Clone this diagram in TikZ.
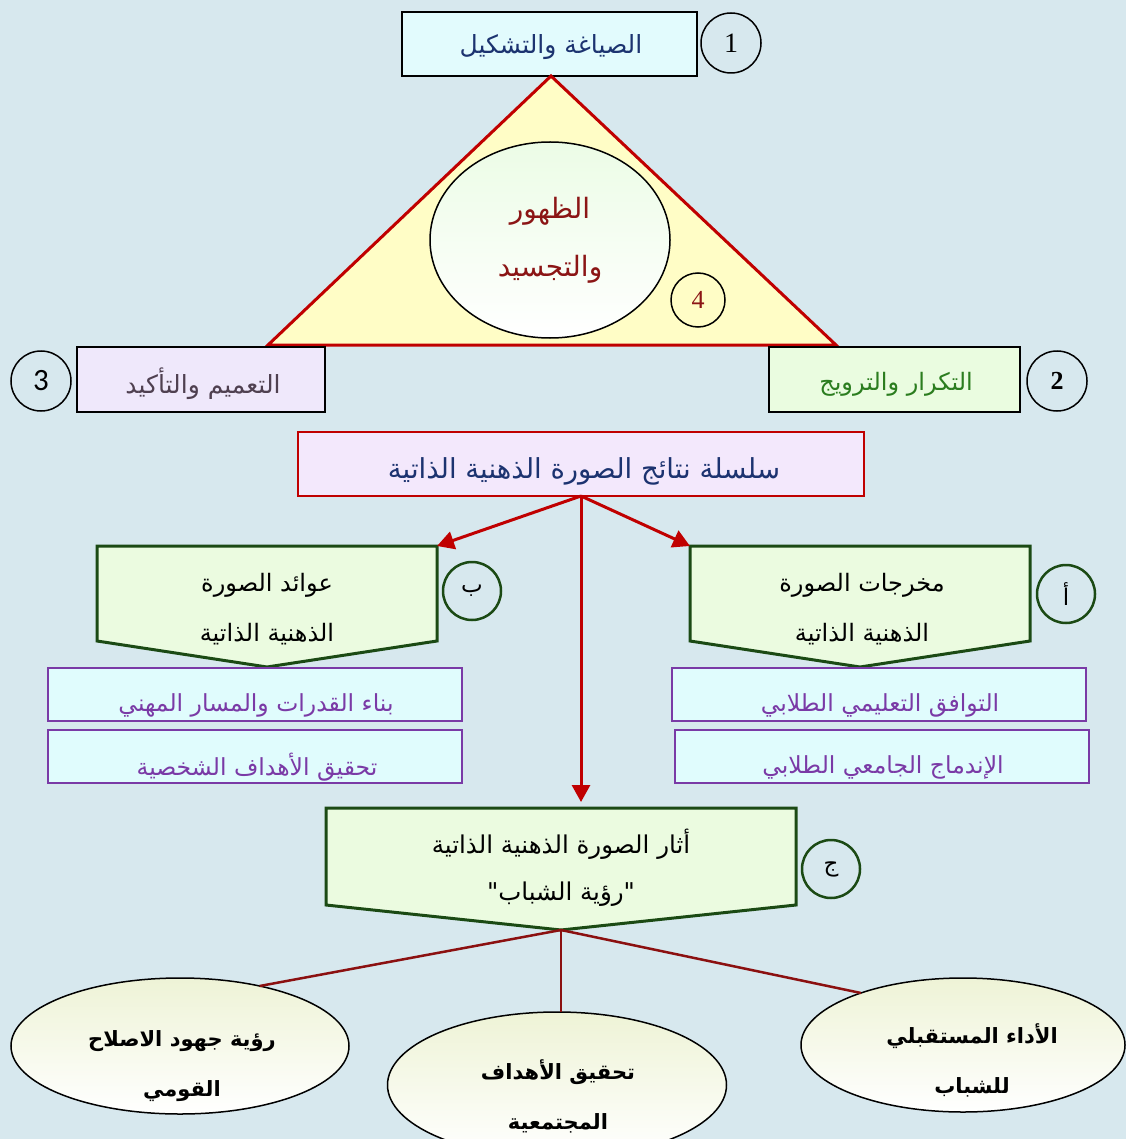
\documentclass[tikz,border=0pt]{standalone}
\usepackage{fontspec}
\usetikzlibrary{arrows.meta,calc,shapes.geometric}
\TeXXeTstate=1
\newfontfamily\arfont[Script=Arabic]{DejaVu Sans}
\newfontfamily\arbold[Script=Arabic]{DejaVu Sans Bold}
\newfontfamily\numfont{Liberation Serif}
\newfontfamily\calfont{Carlito}
\newcommand{\AR}[1]{\beginR #1\endR}
\definecolor{bgc}{HTML}{D7E8EE}
\definecolor{cyanbg}{HTML}{E2FBFD}
\definecolor{triy}{HTML}{FFFDC6}
\definecolor{redc}{HTML}{C00000}
\definecolor{lavb}{HTML}{EFE8FB}
\definecolor{greenb}{HTML}{EAFCE0}
\definecolor{centf}{HTML}{F3E8FC}
\definecolor{navyt}{HTML}{1C3370}
\definecolor{dredt}{HTML}{8B1515}
\definecolor{greent}{HTML}{2B7D1F}
\definecolor{greyt}{HTML}{4F4050}
\definecolor{pentf}{HTML}{EBFBE0}
\definecolor{pentd}{HTML}{1B4A14}
\definecolor{purp}{HTML}{7A3AA6}
\definecolor{purf}{HTML}{E0FCFD}
\definecolor{linec}{HTML}{8B1010}
\definecolor{ellt}{HTML}{EEF3D6}
\begin{document}
\begin{tikzpicture}[x=1pt,y=-1pt,
  every node/.style={inner sep=0pt,outer sep=0pt},
  rbox/.style={draw=black,line width=1.5pt,rectangle},
  numc/.style={circle,draw=black,line width=1.5pt,minimum size=60pt},
  letc/.style={circle,draw=pentd,line width=2.5pt,minimum size=58pt,font={\arfont\fontsize{23}{24}\selectfont}},
  penta/.style={draw=pentd,fill=pentf,line width=3pt,line join=miter},
  pbox/.style={rectangle,draw=purp,fill=purf,line width=2.5pt,minimum width=414pt,minimum height=53pt},
  ptext/.style={text=purp,font={\arfont\fontsize{23.5}{26}\selectfont}},
  gtext/.style={text=black,align=center,font={\arfont\fontsize{24}{50}\selectfont}},
  ell/.style={ellipse,draw=black,line width=1.5pt,top color=ellt,bottom color=white},
  etext/.style={text=black,align=center,font={\arbold\fontsize{21}{50}\selectfont}},
  redarrow/.style={draw=redc,line width=3pt,-{Triangle[length=17pt,width=18pt]}},
  bline/.style={draw=linec,line width=2.5pt}
]
\useasboundingbox (0,0) rectangle (1126,1139);
\fill[bgc] (0,0) rectangle (1126,1139);
\begin{scope}
\clip (0,0) rectangle (1126,1139);
% top box
\node[rbox,fill=cyanbg,minimum width=295pt,minimum height=64pt] (B1) at (549.5,44) {};
\node[text=navyt,font={\arfont\fontsize{25}{28}\selectfont}] (B1t) at (551,47) {\AR{الصياغة والتشكيل}};
\node[numc] (N1) at (731,43) {\numfont\fontsize{28}{28}\selectfont 1};
% triangle
\coordinate (Ta) at (551,76);
\coordinate (Tr) at (836,345);
\coordinate (Tl) at (268,345);
\draw[draw=redc,fill=triy,line width=3pt,line join=miter] (Ta) -- (Tr) -- (Tl) -- cycle;
\node[ellipse,draw=black,line width=1.5pt,minimum width=240pt,minimum height=196pt,top color=ellt!80!green!30,bottom color=white] (E0) at (550,240) {};
\node[text=dredt,align=center,font={\arfont\fontsize{28}{58}\selectfont}] (E0t) at (550,240) {\AR{الظهور}\\\AR{والتجسيد}};
\node[circle,draw=black,line width=1.5pt,minimum size=54pt,text=dredt] (N4) at (698,300) {\numfont\fontsize{26}{26}\selectfont 4};
% side boxes
\node[rbox,fill=lavb,minimum width=248pt,minimum height=65pt] (B3) at (201,379.5) {};
\node[text=greyt,font={\arfont\fontsize{25}{28}\selectfont}] (B3t) at (203,384) {\AR{التعميم والتأكيد}};
\node[numc] (N3) at (41,381) {\calfont\fontsize{31}{31}\selectfont 3};
\node[rbox,fill=greenb,minimum width=251pt,minimum height=65pt] (B2) at (894.5,379.5) {};
\node[text=greent,font={\arfont\fontsize{24}{28}\selectfont}] (B2t) at (896,384) {\AR{التكرار والترويج}};
\node[numc] (N2) at (1057,381) {\numfont\bfseries\fontsize{26}{26}\selectfont 2};
% central box
\node[rectangle,draw=redc,fill=centf,line width=2.5pt,minimum width=566pt,minimum height=64pt] (C) at (581,464) {};
\node[text=navyt,font={\arfont\fontsize{27.5}{30}\selectfont}] (Ct) at (584,471) {\AR{سلسلة نتائج الصورة الذهنية الذاتية}};
% pentagons
\node[minimum width=340pt,minimum height=95pt] (L) at (267,593.5) {};
\draw[penta] (L.north west) -- (L.north east) -- (L.south east) -- ($(L.south)+(0,26)$) -- (L.south west) -- cycle;
\node[gtext] (Lt) at (267,609) {\AR{عوائد الصورة}\\\AR{الذهنية الذاتية}};
\node[minimum width=340pt,minimum height=95pt] (R) at (860,593.5) {};
\draw[penta] (R.north west) -- (R.north east) -- (R.south east) -- ($(R.south)+(0,26)$) -- (R.south west) -- cycle;
\node[gtext] (Rt) at (862,609) {\AR{مخرجات الصورة}\\\AR{الذهنية الذاتية}};
\node[letc] (Cb) at (472,591) {\AR{ب}};
\node[letc] (Ca) at (1066,594) {\AR{أ}};
% arrows
\draw[redarrow] (C.south) -- (L.north east);
\draw[redarrow] (C.south) -- (R.north west);
\draw[redarrow] (C.south) -- ($(C.south)+(0,306)$);
% purple boxes
\node[pbox] (LP1) at (255,694.5) {};
\node[ptext] (LP1t) at (256,705) {\AR{بناء القدرات والمسار المهني}};
\node[pbox] (LP2) at (255,756.5) {};
\node[ptext] (LP2t) at (257,767) {\AR{تحقيق الأهداف الشخصية}};
\node[pbox] (RP1) at (879,694.5) {};
\node[ptext] (RP1t) at (880,705) {\AR{التوافق التعليمي الطلابي}};
\node[pbox] (RP2) at (882,756.5) {};
\node[ptext] (RP2t) at (883,767) {\AR{الإندماج الجامعي الطلابي}};
% bottom pentagon
\node[minimum width=470pt,minimum height=97pt] (J) at (561,856.5) {};
\draw[penta] (J.north west) -- (J.north east) -- (J.south east) -- ($(J.south)+(0,25)$) coordinate (Jtip) -- (J.south west) -- cycle;
\node[gtext,font={\arfont\fontsize{24.5}{47}\selectfont}] (Jt) at (561,868) {\AR{أثار الصورة الذهنية الذاتية}\\\AR{"رؤية الشباب"}};
\node[letc] (Cj) at (831,869) {\AR{ج}};
% bottom ellipses
\node[ell,minimum width=338pt,minimum height=136pt] (E1) at (180,1046) {};
\node[ell,minimum width=339pt,minimum height=146pt] (E2) at (557,1085) {};
\node[ell,minimum width=324pt,minimum height=134pt] (E3) at (963,1045) {};
\draw[bline] (Jtip) -- (E1.37);
\draw[bline] (Jtip) -- (Jtip |- E2.north);
\draw[bline] (Jtip) -- (E3.153);
\node[etext] (E1t) at (182,1066) {\AR{رؤية جهود الاصلاح}\\\AR{القومي}};
\node[etext] (E2t) at (558,1096) {\AR{تحقيق الأهداف}\\\AR{المجتمعية}};
\node[etext] (E3t) at (972,1060) {\AR{الأداء المستقبلي}\\\AR{للشباب}};
\end{scope}
\end{tikzpicture}
\end{document}
